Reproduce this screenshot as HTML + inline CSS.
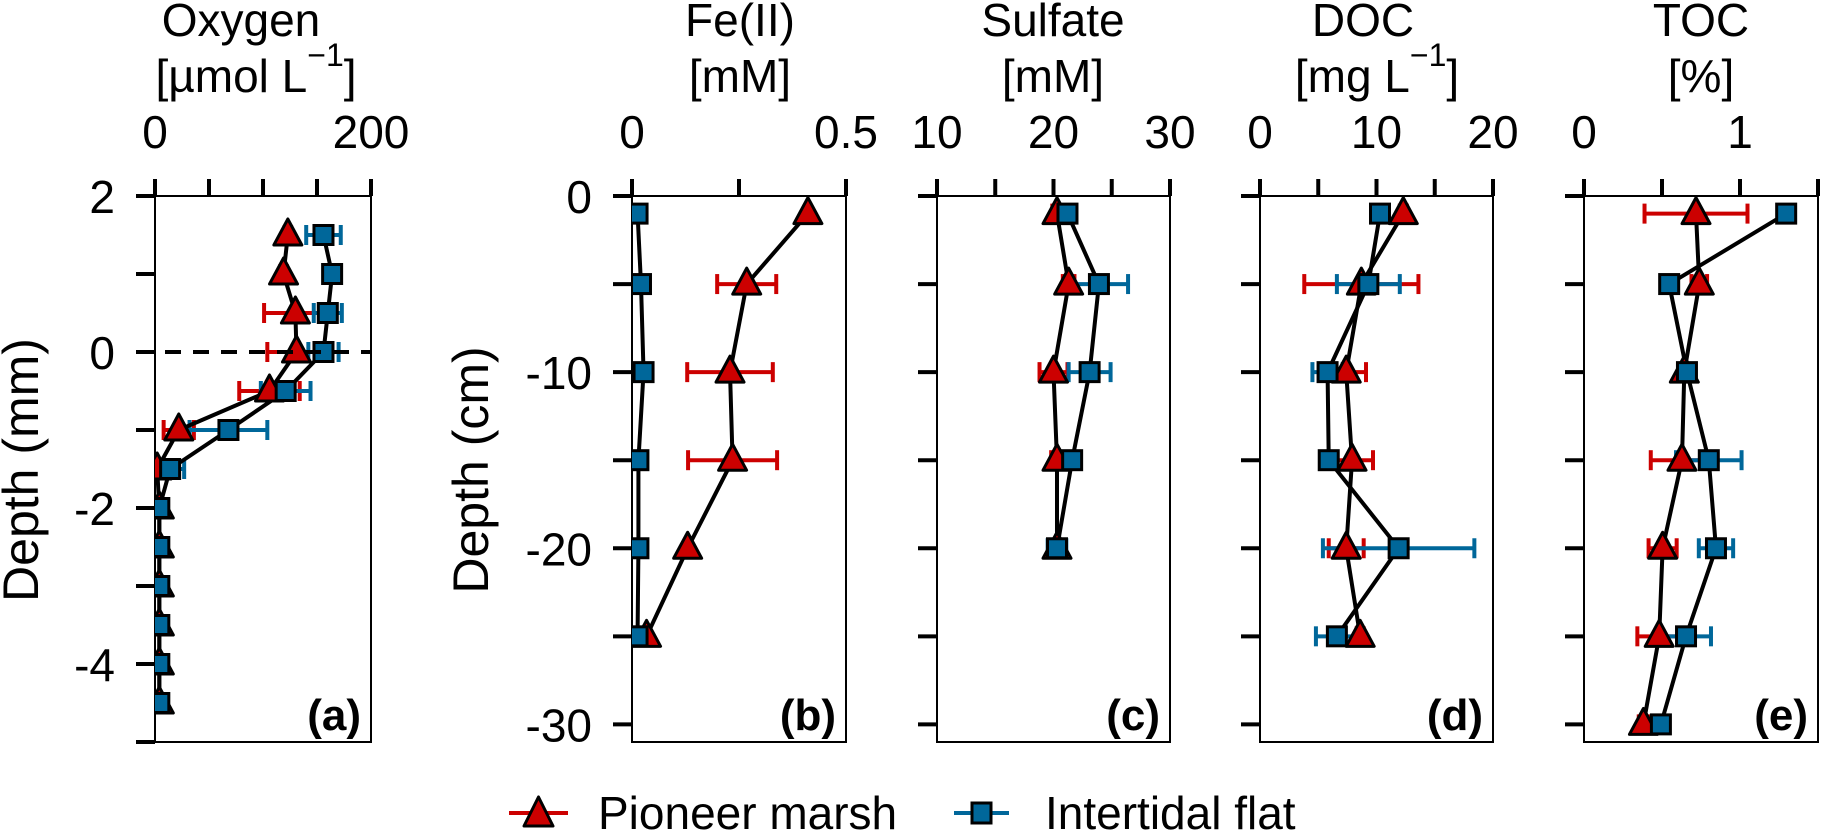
<!DOCTYPE html>
<html><head><meta charset="utf-8">
<style>
html,body{margin:0;padding:0;background:#fff;}
svg{display:block;font-family:"Liberation Sans",Arial,sans-serif;}
</style></head>
<body>
<svg id="chart" width="1821" height="831" viewBox="0 0 1821 831" xmlns="http://www.w3.org/2000/svg">
<g id="titles" font-size="46" text-anchor="middle" fill="#000">
 <text x="241" y="36">Oxygen</text>
 <text x="256" y="92">[µmol  L<tspan font-size="32" dy="-26">−1</tspan><tspan dy="26">]</tspan></text>
 <text x="740" y="36">Fe(II)</text>
 <text x="740" y="92">[mM]</text>
 <text x="1053" y="36">Sulfate</text>
 <text x="1053" y="92">[mM]</text>
 <text x="1363" y="36">DOC</text>
 <text x="1377" y="92">[mg  L<tspan font-size="32" dy="-26">−1</tspan><tspan dy="26">]</tspan></text>
 <text x="1701" y="36">TOC</text>
 <text x="1701" y="92">[%]</text>
</g>
<text font-size="50" text-anchor="middle" transform="translate(38,470) rotate(-90)">Depth (mm)</text>
<text font-size="50" text-anchor="middle" transform="translate(488,470) rotate(-90)">Depth (cm)</text>
<g id="legend">
 <g>
  <line x1="509" y1="813" x2="568" y2="813" stroke="#cc0000" stroke-width="4"/>
  <polygon points="538.5,797 553,826 524,826" fill="#cc0000" stroke="#000" stroke-width="3" stroke-linejoin="round"/>
  <text x="598" y="829" font-size="46">Pioneer marsh</text>
 </g>
 <g>
  <line x1="954" y1="813" x2="1009" y2="813" stroke="#00679a" stroke-width="4"/>
  <rect x="972" y="803" width="19" height="20" fill="#00679a" stroke="#000" stroke-width="3"/>
  <text x="1045" y="829" font-size="46">Intertidal flat</text>
 </g>
</g>
<g id="panels"></g>
</svg>
<script>
// ---- data ----
const oxDepth = [1.5,1,0.5,0,-0.5,-1,-1.5,-2,-2.5,-3,-3.5,-4,-4.5];
const oxMarsh = [123,119,130,131,106,22,2,4,4,4,4,4,4];
const oxMarshErr = [3,3,29,27,28,14,2,1,1,1,1,1,1];
const oxFlat = [156,164,160,156,121,68,14,4,4,4,4,4,4];
const oxFlatErr = [16,8,13,14,23,36,13,1,1,1,1,1,1];

const feDepth = [-1,-5,-10,-15,-20,-25];
const feMarsh = [0.411,0.268,0.229,0.235,0.13,0.034];
const feMarshErr = [0.005,0.069,0.10,0.104,0.005,0.005];
const feFlat = [0.013,0.021,0.027,0.015,0.015,0.013];
const feFlatErr = [0.002,0.002,0.002,0.002,0.002,0.002];

const soDepth = [-1,-5,-10,-15,-20];
const soMarsh = [20.3,21.3,20.0,20.3,20.3];
const soMarshErr = [0.4,0.5,1.2,0.5,0.5];
const soFlat = [21.2,23.9,23.1,21.6,20.3];
const soFlatErr = [0.3,2.5,1.8,0.3,0.8];

const docDepth = [-1,-5,-10,-15,-20,-25];
const docMarsh = [12.3,8.7,7.4,7.9,7.4,8.6];
const docMarshErr = [0.3,4.9,1.7,1.8,1.5,0.3];
const docFlat = [10.3,9.3,5.8,5.9,11.9,6.6];
const docFlatErr = [0.3,2.7,1.3,0.3,6.5,1.8];

const tocDepth = [-1,-5,-10,-15,-20,-25,-30];
const tocMarsh = [0.718,0.739,0.643,0.628,0.504,0.482,0.381];
const tocMarshErr = [0.33,0.05,0.04,0.2,0.09,0.14,0.03];
const tocFlat = [1.296,0.546,0.66,0.8,0.846,0.654,0.493];
const tocFlatErr = [0.01,0.01,0.01,0.21,0.11,0.16,0.01];

const oxXTicks = [0,50,100,150,200];
const oxXLabels = ["0","200"];
const feXTicks = [0,0.25,0.5];
const feXLabels = ["0","0.5"];
const soXTicks = [10,15,20,25,30];
const soXLabels = ["10","20","30"];
const docXTicks = [0,5,10,15,20];
const docXLabels = ["0","10","20"];
const tocXTicks = [0,0.5,1,1.5];
const tocXLabels = ["0","1"];
const mmTicks = [2,1,0,-1,-2,-3,-4,-5];
const mmLabels = ["2","0","-2","-4"];
const cmTicks = [0,-5,-10,-15,-20,-25,-30];
const cmLabels = ["0","-10","-20","-30"];

// ---- drawing ----
const NS = "http://www.w3.org/2000/svg";
const root = document.getElementById('panels');
const TOP = 196, BOT = 742;
const RED = "#cc0000", BLUE = "#00679a";
function mk(tag, attrs, parent){
  const e = document.createElementNS(NS, tag);
  for (const k in attrs) e.setAttribute(k, attrs[k]);
  parent.appendChild(e); return e;
}
const defs = mk('defs', {}, root);

function panel(cfg){
  const g = mk('g', {}, root);
  
  
  const xs = v => cfg.x0 + (v - cfg.xmin) / (cfg.xmax - cfg.xmin) * (cfg.x1 - cfg.x0);
  const ys = d => TOP + (cfg.ymax - d) / (cfg.ymax - cfg.ymin) * (BOT - TOP);
  const cp = mk('clipPath', {id: 'clip-' + cfg.name}, defs);
  mk('rect', {x: cfg.x0, y: TOP, width: cfg.x1 - cfg.x0, height: BOT - TOP}, cp);
  const box = mk('rect', {x: cfg.x0, y: TOP, width: cfg.x1 - cfg.x0, height: BOT - TOP, fill: 'none', stroke: '#000', 'stroke-width': 2}, g);
  
  
  const xa = mk('g', {}, g);
  
  
  cfg.xTicks.forEach(v => {
    mk('line', {x1: xs(v), x2: xs(v), y1: TOP, y2: TOP - 17, stroke: '#000', 'stroke-width': 4}, xa);
  });
  cfg.xLabels.forEach(l => {
    const t = mk('text', {x: xs(parseFloat(l)), y: 148, 'font-size': 46, 'text-anchor': 'middle'}, xa);
    t.textContent = l;
  });
  const ya = mk('g', {}, g);
  
  
  cfg.yTicks.forEach(d => {
    mk('line', {x1: cfg.x0 - 19, x2: cfg.x0, y1: ys(d), y2: ys(d), stroke: '#000', 'stroke-width': 4}, ya);
  });
  if (cfg.yLabels) cfg.yLabels.forEach(l => {
    const t = mk('text', {x: cfg.x0 - 40, y: ys(parseFloat(l)) + 17, 'font-size': 46, 'text-anchor': 'end'}, ya);
    t.textContent = l;
  });
  const pl = mk('text', {x: cfg.x1 - 10, y: 730, 'font-size': 44, 'font-weight': 'bold', 'text-anchor': 'end'}, g);
  
  
  pl.textContent = cfg.letter;

  const dg = mk('g', {'clip-path': 'url(#clip-' + cfg.name + ')'}, g);
  if (cfg.dashed) {
    const dl = mk('line', {x1: cfg.x0 - 18, x2: cfg.x1, y1: ys(0), y2: ys(0), stroke: '#000', 'stroke-width': 4, 'stroke-dasharray': '16,12'}, g);
    
    
  }
  const series = [
    {key: 'pioneer-marsh', vals: cfg.marsh, errs: cfg.marshErr, col: RED, tri: true},
    {key: 'intertidal-flat', vals: cfg.flat, errs: cfg.flatErr, col: BLUE, tri: false}
  ];
  series.forEach(s => {
    const eg = mk('g', {}, dg);
    
    
    cfg.depth.forEach((d, i) => {
      const y = ys(d), a = xs(s.vals[i] - s.errs[i]), b = xs(s.vals[i] + s.errs[i]);
      mk('line', {x1: a, x2: b, y1: y, y2: y, stroke: s.col, 'stroke-width': 4}, eg);
      mk('line', {x1: a, x2: a, y1: y - 10, y2: y + 10, stroke: s.col, 'stroke-width': 4}, eg);
      mk('line', {x1: b, x2: b, y1: y - 10, y2: y + 10, stroke: s.col, 'stroke-width': 4}, eg);
    });
  });
  series.forEach(s => {
    const pts = cfg.depth.map((d, i) => xs(s.vals[i]) + ',' + ys(d)).join(' ');
    const pl2 = mk('polyline', {points: pts, fill: 'none', stroke: '#000', 'stroke-width': 4, 'stroke-linejoin': 'round'}, dg);
    
    
  });
  series.forEach(s => {
    cfg.depth.forEach((d, i) => {
      const x = xs(s.vals[i]), y = ys(d);
      let m;
      if (s.tri) {
        m = mk('polygon', {points: (x) + ',' + (y - 16) + ' ' + (x + 14) + ',' + (y + 10) + ' ' + (x - 14) + ',' + (y + 10), fill: RED, stroke: '#000', 'stroke-width': 3, 'stroke-linejoin': 'round'}, dg);
      } else {
        m = mk('rect', {x: x - 9.5, y: y - 9.5, width: 19, height: 19, fill: BLUE, stroke: '#000', 'stroke-width': 3}, dg);
      }
      
      
    });
  });
}

panel({name: 'oxygen', letter: '(a)', x0: 155, x1: 371, xmin: 0, xmax: 200, ymax: 2, ymin: -5,
  xTicks: oxXTicks, xLabels: oxXLabels, yTicks: mmTicks, yLabels: mmLabels, dashed: true,
  depth: oxDepth, marsh: oxMarsh, marshErr: oxMarshErr, flat: oxFlat, flatErr: oxFlatErr});
panel({name: 'fe', letter: '(b)', x0: 632, x1: 846, xmin: 0, xmax: 0.5, ymax: 0, ymin: -31,
  xTicks: feXTicks, xLabels: feXLabels, yTicks: cmTicks, yLabels: cmLabels,
  depth: feDepth, marsh: feMarsh, marshErr: feMarshErr, flat: feFlat, flatErr: feFlatErr});
panel({name: 'sulfate', letter: '(c)', x0: 937, x1: 1170, xmin: 10, xmax: 30, ymax: 0, ymin: -31,
  xTicks: soXTicks, xLabels: soXLabels, yTicks: cmTicks,
  depth: soDepth, marsh: soMarsh, marshErr: soMarshErr, flat: soFlat, flatErr: soFlatErr});
panel({name: 'doc', letter: '(d)', x0: 1260, x1: 1493, xmin: 0, xmax: 20, ymax: 0, ymin: -31,
  xTicks: docXTicks, xLabels: docXLabels, yTicks: cmTicks,
  depth: docDepth, marsh: docMarsh, marshErr: docMarshErr, flat: docFlat, flatErr: docFlatErr});
panel({name: 'toc', letter: '(e)', x0: 1584, x1: 1818, xmin: 0, xmax: 1.5, ymax: 0, ymin: -31,
  xTicks: tocXTicks, xLabels: tocXLabels, yTicks: cmTicks,
  depth: tocDepth, marsh: tocMarsh, marshErr: tocMarshErr, flat: tocFlat, flatErr: tocFlatErr});
</script>
</body></html>
